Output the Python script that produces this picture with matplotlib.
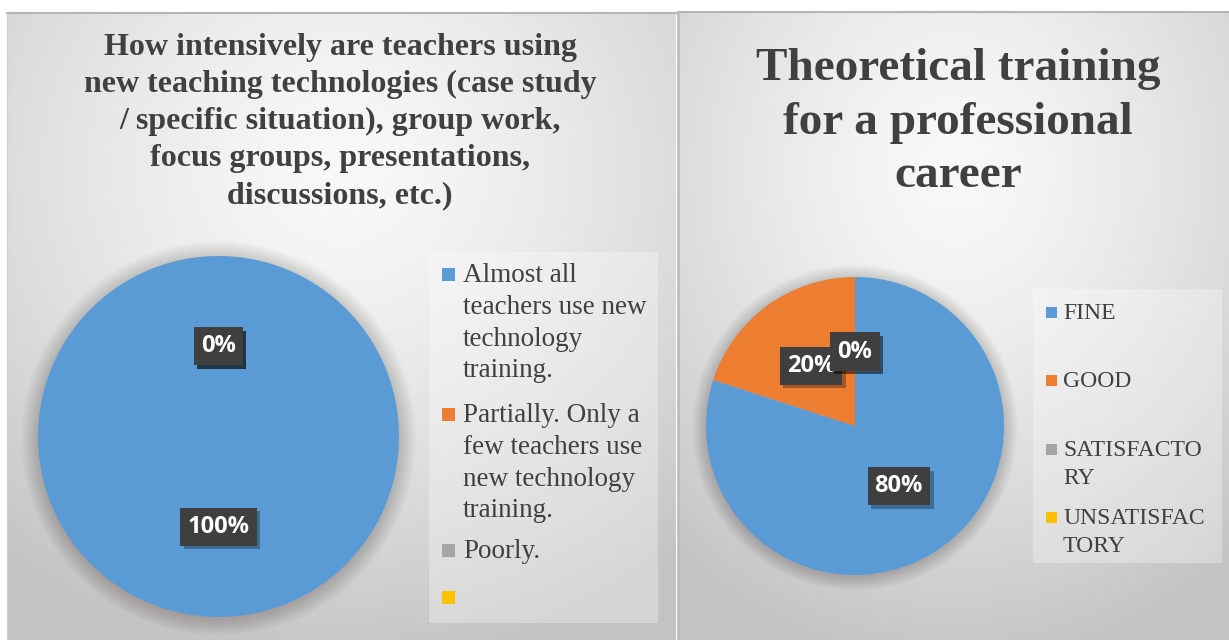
import numpy as np
import matplotlib
matplotlib.use('Agg')
import matplotlib.pyplot as plt
from matplotlib import patheffects as pe
from matplotlib.patches import Rectangle, Circle

W, H = 1229, 640

# ---------------- data ----------------
left_title = ["How intensively are teachers using",
              "new teaching technologies (case study",
              "/ specific situation), group work,",
              "focus groups, presentations,",
              "discussions, etc.)"]
left_categories = ["Almost all\nteachers use new\ntechnology\ntraining.",
                   "Partially. Only a\nfew teachers use\nnew technology\ntraining.",
                   "Poorly.",
                   ""]
left_values = [100, 0, 0, 0]

right_title = ["Theoretical training", "for a professional", "career"]
right_categories = ["FINE", "GOOD", "SATISFACTO\nRY", "UNSATISFAC\nTORY"]
right_values = [80, 20, 0, 0]

colors = ['#5B9BD5', '#ED7D31', '#A5A5A5', '#FFC000']
TXT = '#404040'

fig = plt.figure(figsize=(W / 100, H / 100), dpi=100)
fig.patch.set_facecolor('white')
bg = fig.add_axes([0, 0, 1, 1])
bg.axis('off')


def gradient(x0, x1, y0, y1, cx, cy):
    xs = np.linspace(x0, x1, 400)
    ys = np.linspace(y0, y1, 400)
    X, Y = np.meshgrid(xs, ys)
    d = np.sqrt(((X - cx) / (x1 - x0)) ** 2 + ((Y - cy) / (y1 - y0)) ** 2) / 0.8
    v = 0.975 - 0.21 * np.clip(d, 0, 1) ** 1.4
    img = np.dstack([v, v, v])
    bg.imshow(img, extent=(x0, x1, y1, y0), aspect='auto', zorder=0,
              interpolation='bilinear')


# panels
gradient(7, 676, 13, H, 341, 170)
gradient(679, W, 12, H, 955, 170)
bg.plot([7, 676], [13, 13], color='#b5b5b5', lw=1.5, zorder=1)
bg.plot([679, W], [12, 12], color='#b5b5b5', lw=1.5, zorder=1)
bg.plot([7, 7], [13, H], color='#d0d0d0', lw=1, zorder=1)
bg.plot([677.5, 677.5], [12, H], color='#bdbdbd', lw=2, zorder=1)
bg.set_xlim(0, W)
bg.set_ylim(H, 0)

serif = 'Liberation Serif'

# titles
for i, line in enumerate(left_title):
    bg.text(340, 55 + 37 * i, line, ha='center', va='baseline', fontsize=23,
            fontweight='bold', family=serif, color=TXT, zorder=3)
for i, line in enumerate(right_title):
    bg.text(958, 80 + 53.5 * i, line, ha='center', va='baseline', fontsize=34,
            fontweight='bold', family=serif, color=TXT, zorder=3)

# legends
bg.add_patch(Rectangle((429, 252), 229, 371, fc='white', alpha=0.3, lw=0, zorder=2))
bg.add_patch(Rectangle((1033, 289), 189, 274, fc='white', alpha=0.3, lw=0, zorder=2))

left_first_baselines = [282, 422, 558, 605]
for lab, col, yb in zip(left_categories, colors, left_first_baselines):
    bg.add_patch(Rectangle((442, yb - 14), 13, 13, fc=col, lw=0, zorder=3))
    for j, ln in enumerate(lab.split('\n')):
        bg.text(463, yb + 31.8 * j, ln, ha='left', va='baseline', fontsize=19.5,
                family=serif, color=TXT, zorder=3)

right_first_baselines = [319, 387, 456, 524]
for lab, col, yb in zip(right_categories, colors, right_first_baselines):
    bg.add_patch(Rectangle((1046, yb - 12), 11, 11, fc=col, lw=0, zorder=3))
    for j, ln in enumerate(lab.split('\n')):
        bg.text(1063, yb + 28 * j, ln, ha='left', va='baseline', fontsize=17,
                family=serif, color=TXT, zorder=3)


# pies
def make_pie(values, cx, cy, r):
    ax = fig.add_axes([(cx - r) / W, 1 - (cy + r) / H, 2 * r / W, 2 * r / H])
    ax.set_facecolor('none')
    for k in range(22):
        ax.add_patch(Circle((0.0, -0.01), 1 + 0.0045 * k, fc='#5a4a40', alpha=0.011,
                            lw=0, zorder=0, clip_on=False))
    wedges, texts, autotexts = ax.pie(
        values, colors=colors, startangle=90, counterclock=False, radius=1,
        autopct=lambda p: f'{p:.0f}%', pctdistance=0.5,
        wedgeprops=dict(linewidth=0))
    for w in wedges:
        w.set_zorder(2)
    for t in autotexts:
        t.set(color='white', fontsize=17, fontweight='bold', family='Open Sans', zorder=4)
        t.set_bbox(dict(boxstyle='square,pad=0.3', fc='#3f3f3f', ec='none'))
        t.get_bbox_patch().set_path_effects(
            [pe.withSimplePatchShadow(offset=(2.5, -2.5), shadow_rgbFace='black', alpha=0.3)])
    ax.set_xlim(-1, 1)
    ax.set_ylim(-1, 1)
    ax.axis('off')
    return ax


make_pie(left_values, 218.5, 436.5, 180.5)
make_pie(right_values, 855, 426, 149)

fig.savefig('out.png', dpi=100)
